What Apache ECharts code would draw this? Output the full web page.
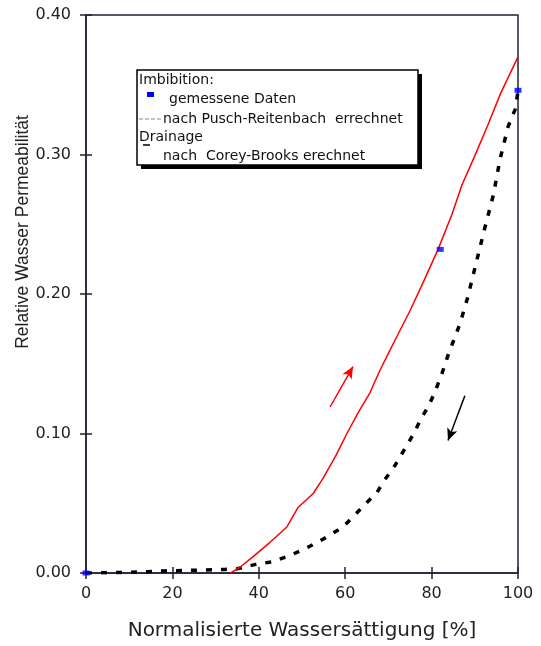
<!DOCTYPE html>
<html>
<head>
<meta charset="utf-8">
<script src="https://cdn.jsdelivr.net/npm/echarts@6/dist/echarts.min.js"></script>
<style>html,body{margin:0;padding:0;background:#fff}#c{width:541px;height:646px}</style>
</head>
<body>
<div id="c"></div>
<script>
// Imbibition, calculated (Pusch-Reitenbach) - red line
const redX = [33.5, 36, 38.4, 42.6, 46.5, 49.1, 52.6, 54.9, 58, 60.4, 63, 65.7, 68, 70.4, 72.7, 75, 78, 81.5, 84.7, 87, 90, 93, 96, 100];
const redY = [0, 0.005, 0.011, 0.022, 0.033, 0.047, 0.057, 0.068, 0.085, 0.100, 0.115, 0.129, 0.145, 0.160, 0.174, 0.188, 0.208, 0.232, 0.257, 0.278, 0.299, 0.321, 0.344, 0.370];
// Drainage, calculated (Corey-Brooks) - black dashed
const blackX = [0, 10, 18, 25, 32, 35, 39, 43, 46.8, 51.1, 55.3, 59.5, 63.9, 67.4, 69.2, 71.5, 75.7, 77.8, 79.2, 80.8, 82.4, 83.8, 86.6, 88.3, 90.3, 92.2, 94.3, 95.8, 97.7, 99.3, 100];
const blackY = [0, 0.0004, 0.0015, 0.002, 0.0025, 0.003, 0.006, 0.008, 0.012, 0.018, 0.025, 0.033, 0.047, 0.058, 0.067, 0.077, 0.099, 0.112, 0.119, 0.130, 0.143, 0.156, 0.179, 0.197, 0.222, 0.246, 0.271, 0.296, 0.320, 0.332, 0.345];
// Measured data (blue)
const measX = [0, 82, 100];
const measY = [0, 0.232, 0.346];
// Direction arrows [from, to] in data coords
const arrowUp = [[56.5, 0.119], [61.8, 0.148]];
const arrowDown = [[87.7, 0.127], [83.8, 0.095]];
const xTicks = [0, 20, 40, 60, 80, 100];
const yTicks = [0, 0.1, 0.2, 0.3, 0.4];

const zip = (a, b) => a.map((v, i) => [v, b[i]]);
const axisColor = '#20203a';
const tickFont = {fontFamily: 'DejaVu Sans', fontSize: 16, color: '#222'};
const legFont = 'DejaVu Sans';

const chart = echarts.init(document.getElementById('c'));
chart.setOption({
  animation: false,
  grid: {left: 86, top: 15, right: 23, bottom: 73, show: true, borderColor: axisColor, borderWidth: 1.5, backgroundColor: 'transparent'},
  xAxis: [{
    type: 'value', min: 0, max: 100, interval: 20,
    axisLine: {show: true, onZero: false, lineStyle: {color: axisColor, width: 1.5}},
    axisTick: {show: true, inside: false, length: 6, lineStyle: {color: axisColor, width: 1.5}},
    axisLabel: Object.assign({margin: 13}, tickFont),
    splitLine: {show: false},
    name: 'Normalisierte Wassersättigung [%]', nameLocation: 'middle', nameGap: 48,
    nameTextStyle: {fontFamily: 'DejaVu Sans', fontSize: 20, color: '#222'}
  }, {
    type: 'value', min: 0, max: 100, interval: 20, position: 'bottom',
    axisLine: {show: false}, axisTick: {show: true, inside: true, length: 6, lineStyle: {color: axisColor, width: 1.5}},
    axisLabel: {show: false}, splitLine: {show: false}
  }],
  yAxis: [{
    type: 'value', min: 0, max: 0.4, interval: 0.1,
    axisLine: {show: true, onZero: false, lineStyle: {color: axisColor, width: 1.5}},
    axisTick: {show: true, inside: false, length: 6, lineStyle: {color: axisColor, width: 1.5}},
    axisLabel: Object.assign({margin: 15, formatter: v => v.toFixed(2)}, tickFont),
    splitLine: {show: false}
  }, {
    type: 'value', min: 0, max: 0.4, interval: 0.1, position: 'left',
    axisLine: {show: false}, axisTick: {show: true, inside: true, length: 6, lineStyle: {color: axisColor, width: 1.5}},
    axisLabel: {show: false}, splitLine: {show: false}
  }],
  series: [{
    name: 'nach Pusch-Reitenbach errechnet', type: 'line', data: zip(redX, redY),
    showSymbol: false, symbol: 'none', lineStyle: {color: '#ff0000', width: 1.5}, z: 3,
    markLine: {
      silent: true, symbol: ['none', 'arrow'], symbolSize: [8, 12], label: {show: false},
      lineStyle: {color: '#ff0000', width: 1.5, type: 'solid'},
      data: [[{coord: arrowUp[0]}, {coord: arrowUp[1]}]]
    }
  }, {
    name: 'nach Corey-Brooks erechnet', type: 'line', data: zip(blackX, blackY),
    showSymbol: false, symbol: 'none', lineStyle: {color: '#000', width: 3.5, type: [6, 9]}, z: 2,
    markLine: {
      silent: true, symbol: ['none', 'arrow'], symbolSize: [8, 12], label: {show: false},
      lineStyle: {color: '#000', width: 1.5, type: 'solid'},
      data: [[{coord: arrowDown[0]}, {coord: arrowDown[1]}]]
    }
  }, {
    name: 'gemessene Daten', type: 'scatter', data: zip(measX, measY),
    symbol: 'rect', symbolSize: [7, 5], itemStyle: {color: '#0000ff'}, z: 5
  }],
  graphic: [
    {type: 'rect', shape: {x: 141, y: 74, width: 281, height: 95}, style: {fill: '#000'}, z: 10},
    {type: 'rect', shape: {x: 137, y: 70, width: 281, height: 95}, style: {fill: '#fff', stroke: '#000', lineWidth: 1.5}, z: 11},
    {type: 'text', x: 139, y: 80, style: {text: 'Imbibition:', fontFamily: legFont, fontSize: 14, fill: '#111', verticalAlign: 'middle'}, z: 12},
    {type: 'rect', shape: {x: 147, y: 92, width: 7, height: 5}, style: {fill: '#0000ff'}, z: 12},
    {type: 'text', x: 169, y: 99, style: {text: 'gemessene Daten', fontFamily: legFont, fontSize: 14, fill: '#111', verticalAlign: 'middle'}, z: 12},
    {type: 'line', shape: {x1: 139, y1: 119, x2: 161, y2: 119}, style: {stroke: '#888', lineWidth: 1, lineDash: [4, 2]}, z: 12},
    {type: 'text', x: 163, y: 119, style: {text: 'nach Pusch-Reitenbach  errechnet', fontFamily: legFont, fontSize: 14, fill: '#111', verticalAlign: 'middle'}, z: 12},
    {type: 'text', x: 139, y: 137, style: {text: 'Drainage', fontFamily: legFont, fontSize: 14, fill: '#111', verticalAlign: 'middle'}, z: 12},
    {type: 'line', shape: {x1: 143, y1: 145, x2: 150, y2: 145}, style: {stroke: '#000', lineWidth: 1.5}, z: 12},
    {type: 'text', x: 163, y: 156, style: {text: 'nach  Corey-Brooks erechnet', fontFamily: legFont, fontSize: 14, fill: '#111', verticalAlign: 'middle'}, z: 12},
    {type: 'text', x: 23, y: 232, rotation: Math.PI / 2, style: {text: 'Relative Wasser Permeabilität', fontFamily: 'Liberation Sans', fontSize: 17.5, fill: '#222', align: 'center', verticalAlign: 'middle'}, z: 12}
  ]
});
</script>
</body>
</html>
